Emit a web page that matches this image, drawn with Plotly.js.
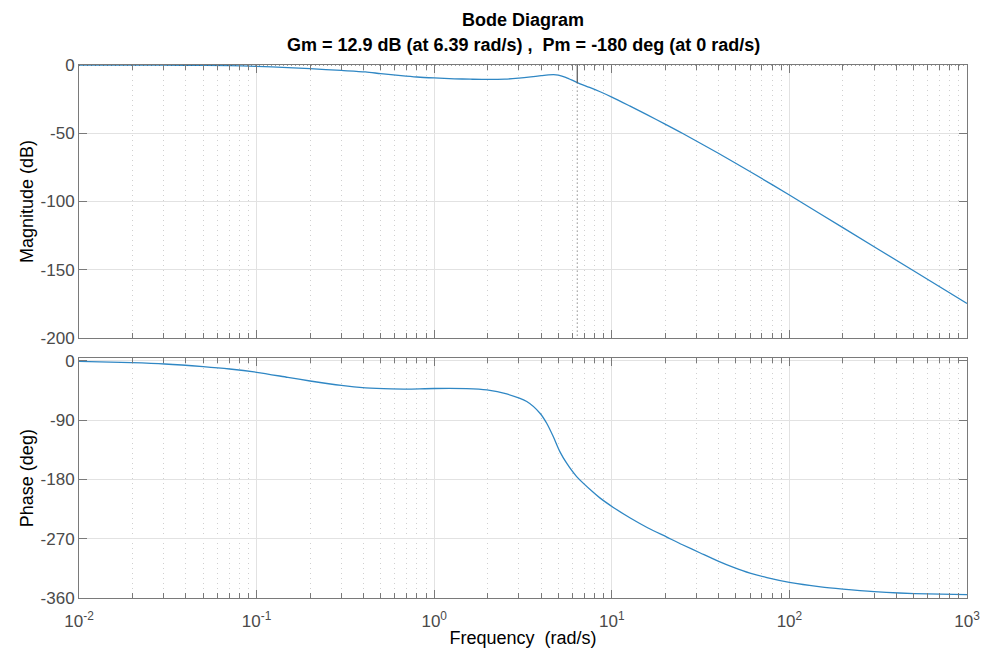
<!DOCTYPE html>
<html>
<head>
<meta charset="utf-8">
<script src="https://cdn.plot.ly/plotly-3.0.1.min.js"></script>
<style>
  html, body { margin: 0; padding: 0; background: #ffffff; }
  #chart { width: 987px; height: 651px; }
</style>
</head>
<body>
<div id="chart"></div>
<script>
// ---- Data ----
const magFreq = [0.01, 0.02, 0.04, 0.07, 0.1, 0.15, 0.2, 0.3, 0.41, 0.5, 0.65, 0.8, 1.0, 1.3, 1.6, 2.0, 2.5, 3.0, 3.5, 4.0, 4.4, 4.7, 5.0, 5.5, 6.39, 7.5, 8.6, 10, 12.6, 15.85, 19.95, 25.1, 39.8, 63, 100, 200, 500, 1000];
const magDb   = [0, -0.05, -0.2, -0.5, -1.0, -1.9, -2.7, -4.0, -5.1, -6.3, -7.8, -8.8, -9.5, -10.1, -10.4, -10.6, -10.4, -9.6, -8.7, -7.8, -7.2, -7.0, -7.4, -9.0, -12.9, -16.4, -19.6, -23.5, -30.0, -36.6, -43.3, -50.2, -64.7, -79.7, -95.3, -119.2, -150.8, -174.8];

const phaseFreq = [0.01, 0.0197, 0.0304, 0.05, 0.0705, 0.1, 0.15, 0.2, 0.3, 0.41, 0.575, 0.7, 1.0, 1.52, 1.98, 2.56, 3.32, 3.94, 4.3, 4.68, 5.1, 5.57, 6.34, 7.89, 8.6, 10.2, 12.7, 16, 20.4, 25, 31.5, 40, 48.5, 60, 74.7, 100, 150, 200, 300, 415, 600, 1000];
const phaseDeg  = [-1, -3, -5, -9, -12.6, -17.6, -25.3, -30.8, -37.6, -41.2, -42.8, -43, -42.2, -42.4, -44.4, -50.5, -62, -79.7, -94.9, -115, -137.9, -155.5, -175.8, -200, -208.5, -222.6, -238.7, -253.8, -267.6, -279.2, -291.7, -304.4, -313.6, -322.3, -329.1, -336.3, -343.0, -346.4, -350.3, -352.4, -353.8, -355];

// Gain margin marker
const gmFreq = 6.39;
const gmDb = -12.9;

// Axis ticks
const freqRange = [0.01, 1000];
const freqTickVals = [0.01, 0.1, 1, 10, 100, 1000];
const freqTickText = ['10<sup>-2</sup>', '10<sup>-1</sup>', '10<sup>0</sup>', '10<sup>1</sup>', '10<sup>2</sup>', '10<sup>3</sup>'];
const magTicks = [0, -50, -100, -150, -200];
const phaseTicks = [0, -90, -180, -270, -360];

const titleLine1 = 'Bode Diagram';
const titleLine2 = 'Gm = 12.9 dB (at 6.39 rad/s) ,  Pm = -180 deg (at 0 rad/s)';

// ---- Styling ----
const FONT = '"Liberation Sans", Arial, Helvetica, sans-serif';
const lineColor = '#2f87c4';
const axisColor = '#7a7a7a';
const tickFontColor = '#4a4a4a';
const gridColor = '#e2e2e2';
const minorGridColor = '#d0d0d0';

function xAxisBase() {
  return {
    type: 'log',
    range: [Math.log10(freqRange[0]), Math.log10(freqRange[1])],
    tickvals: freqTickVals,
    ticktext: freqTickText,
    ticks: 'inside',
    ticklen: 8,
    tickcolor: axisColor,
    showline: true,
    linecolor: axisColor,
    linewidth: 1,
    mirror: 'ticks',
    showgrid: true,
    gridcolor: gridColor,
    gridwidth: 1,
    zeroline: false,
    tickfont: { family: FONT, size: 17, color: tickFontColor },
    minor: {
      dtick: 'D1',
      ticks: 'inside',
      ticklen: 5,
      tickcolor: axisColor,
      showgrid: true,
      gridcolor: minorGridColor,
      griddash: '1px,4px',
      gridwidth: 1
    }
  };
}

function yAxisBase(ticks, range, domain, title) {
  return {
    range: range,
    domain: domain,
    tickvals: ticks,
    ticktext: ticks.map(String),
    ticks: 'inside',
    ticklen: 8,
    tickcolor: axisColor,
    showline: true,
    linecolor: axisColor,
    linewidth: 1,
    mirror: 'ticks',
    showgrid: true,
    gridcolor: gridColor,
    zeroline: false,
    tickfont: { family: FONT, size: 17, color: tickFontColor },
    title: { text: title, font: { family: FONT, size: 18, color: '#000000' }, standoff: 2 }
  };
}

const traces = [
  {
    x: magFreq, y: magDb, xaxis: 'x2', yaxis: 'y2',
    type: 'scatter', mode: 'lines',
    line: { color: lineColor, width: 1.3, shape: 'spline', smoothing: 0.8 },
    hoverinfo: 'x+y', showlegend: false
  },
  {
    x: phaseFreq, y: phaseDeg, xaxis: 'x', yaxis: 'y',
    type: 'scatter', mode: 'lines',
    line: { color: lineColor, width: 1.3, shape: 'spline', smoothing: 0.8 },
    hoverinfo: 'x+y', showlegend: false
  },
  // 0 dB reference (dotted)
  {
    x: freqRange, y: [0, 0], xaxis: 'x2', yaxis: 'y2',
    type: 'scatter', mode: 'lines',
    line: { color: '#444444', width: 1, dash: '1px,3px' },
    hoverinfo: 'skip', showlegend: false
  },
  // gain margin: solid from 0 dB to curve
  {
    x: [gmFreq, gmFreq], y: [0, gmDb], xaxis: 'x2', yaxis: 'y2',
    type: 'scatter', mode: 'lines',
    line: { color: '#555555', width: 1.2 },
    hoverinfo: 'skip', showlegend: false
  },
  // gain margin: dotted below the curve
  {
    x: [gmFreq, gmFreq], y: [gmDb, magTicks[magTicks.length - 1]], xaxis: 'x2', yaxis: 'y2',
    type: 'scatter', mode: 'lines',
    line: { color: '#555555', width: 1, dash: '1px,3px' },
    hoverinfo: 'skip', showlegend: false
  }
];

const xBottom = xAxisBase();
xBottom.anchor = 'y';
xBottom.domain = [0, 1];
xBottom.ticklabelstandoff = 8;
xBottom.title = { text: 'Frequency\u00a0 (rad/s)', font: { family: FONT, size: 18, color: '#000000' }, standoff: 0 };

const xTop = xAxisBase();
xTop.anchor = 'y2';
xTop.matches = 'x';
xTop.showticklabels = false;

const layout = {
  width: 987,
  height: 651,
  paper_bgcolor: '#ffffff',
  plot_bgcolor: '#ffffff',
  margin: { l: 79, r: 20, t: 65, b: 53 },
  font: { family: FONT, size: 17, color: '#000000' },
  showlegend: false,
  xaxis: xBottom,
  xaxis2: xTop,
  yaxis: yAxisBase(phaseTicks, [-360, 3.6], [0, 0.4497], 'Phase (deg)'),
  yaxis2: yAxisBase(magTicks, [-200, 0], [0.488, 1], 'Magnitude (dB)'),
  annotations: [
    {
      text: '<b>' + titleLine1 + '</b>', xref: 'paper', yref: 'paper',
      x: 0.5, y: 1.0844, xanchor: 'center', yanchor: 'middle', showarrow: false,
      font: { family: FONT, size: 18, color: '#000000' }
    },
    {
      text: '<b>' + titleLine2 + '</b>', xref: 'paper', yref: 'paper',
      x: 0.5, y: 1.0375, xanchor: 'center', yanchor: 'middle', showarrow: false,
      font: { family: FONT, size: 18, color: '#000000' }
    }
  ]
};

Plotly.newPlot('chart', traces, layout, { displayModeBar: false, staticPlot: true });
</script>
</body>
</html>
